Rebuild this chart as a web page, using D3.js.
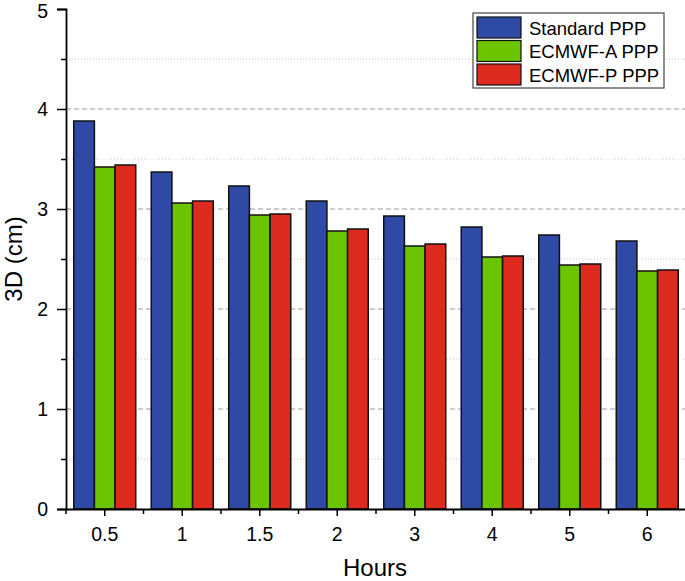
<!DOCTYPE html>
<html><head><meta charset="utf-8">
<script src="https://cdn.jsdelivr.net/npm/d3@7"></script>
<style>body{margin:0;background:#fff}svg{display:block;font-family:Arial,"Liberation Sans",sans-serif}</style>
</head><body><svg id="c" width="685" height="581"></svg>
<script>
const categories = ["0.5","1","1.5","2","3","4","5","6"];
const seriesNames = ["Standard PPP","ECMWF-A PPP","ECMWF-P PPP"];
const standardPPP = [3.88,3.37,3.23,3.08,2.93,2.82,2.74,2.68];
const ecmwfA = [3.42,3.06,2.94,2.78,2.63,2.52,2.44,2.38];
const ecmwfP = [3.44,3.08,2.95,2.80,2.65,2.53,2.45,2.39];
const yTicks = [0,1,2,3,4,5];
const yMinor = [0.5,1.5,2.5,3.5,4.5];
const colors = ["#2f4aa5","#6cc400","#dd2a1e"];
const series = [standardPPP, ecmwfA, ecmwfP];

const svg = d3.select("#c");
const L = 66, R = 686, T = 9, B = 509;
const x = d3.scaleBand().domain(categories).range([L, R]).paddingInner(0).paddingOuter(0);
const y = d3.scaleLinear().domain([0,5]).range([B, T]);
const inner = d3.scaleBand().domain(d3.range(3)).range([0, x.bandwidth()*0.8]);
const off = x.bandwidth()*0.1;

// grid
svg.append("g").selectAll("line").data([1,2,3,4]).join("line")
  .attr("x1", L).attr("x2", R).attr("y1", d=>y(d)).attr("y2", d=>y(d))
  .attr("stroke","#9a9a9a").attr("stroke-width",1).attr("stroke-dasharray","5,3");
svg.append("g").selectAll("line").data(yMinor).join("line")
  .attr("x1", L).attr("x2", R).attr("y1", d=>y(d)).attr("y2", d=>y(d))
  .attr("stroke","#c8c8c8").attr("stroke-width",1).attr("stroke-dasharray","1,2");

// bars
const g = svg.append("g");
series.forEach((vals, si) => {
  g.append("g").selectAll("rect").data(vals).join("rect")
    .attr("x", (d,i)=> x(categories[i]) + off + inner(si))
    .attr("y", d=>y(d))
    .attr("width", inner.bandwidth())
    .attr("height", d=> y(0)-y(d))
    .attr("fill", colors[si]).attr("stroke","#111").attr("stroke-width",1.5);
});

// y axis
const yAxis = svg.append("g").attr("transform",`translate(${L},0)`)
  .call(d3.axisLeft(y).tickValues(yTicks).tickSize(9).tickPadding(9).tickFormat(d3.format("d")));
yAxis.select(".domain").attr("stroke-width",1.8);
yAxis.selectAll(".tick line").attr("stroke-width",1.5);
yAxis.selectAll("text").attr("font-size",19.5).attr("fill","#000");
yAxis.selectAll(".tick").filter(d=>d===5).select("text").attr("y",2);
svg.append("g").attr("transform",`translate(${L},0)`)
  .call(d3.axisLeft(y).tickValues(yMinor).tickSize(5).tickFormat(""))
  .call(g=>g.select(".domain").remove())
  .selectAll("line").attr("stroke-width",1.5);

// x axis
const xAxis = svg.append("g").attr("transform",`translate(0,${B})`)
  .call(d3.axisBottom(x).tickSize(7).tickPadding(11).tickSizeOuter(0));
xAxis.select(".domain").attr("stroke-width",1.8);
xAxis.selectAll(".tick line").attr("stroke-width",1.5);
xAxis.selectAll("text").attr("font-size",19.5).attr("fill","#000");
// minor x ticks at band boundaries
const bounds = categories.map(c=>x(c)).concat([R]);
svg.append("g").selectAll("line").data(bounds).join("line")
  .attr("x1",d=>d).attr("x2",d=>d).attr("y1",B).attr("y2",B+5)
  .attr("stroke","#000").attr("stroke-width",1.5);

// axis titles
svg.append("text").attr("transform",`translate(22,${(T+B)/2}) rotate(-90)`)
  .attr("text-anchor","middle").attr("font-size",24).text("3D (cm)");
svg.append("text").attr("x",375).attr("y",576)
  .attr("text-anchor","middle").attr("font-size",24).text("Hours");

// legend
const lg = svg.append("g").attr("transform","translate(473,13)");
lg.append("rect").attr("width",191).attr("height",75).attr("fill","#fff").attr("stroke","#444").attr("stroke-width",1.2);
seriesNames.forEach((n,i)=>{
  lg.append("rect").attr("x",4).attr("y",4+i*23.5).attr("width",44).attr("height",21)
    .attr("fill",colors[i]).attr("stroke","#111").attr("stroke-width",1.2);
  lg.append("text").attr("x",56).attr("y",21.5+i*23.5).attr("font-size",18.5).text(n);
});
</script></body></html>
